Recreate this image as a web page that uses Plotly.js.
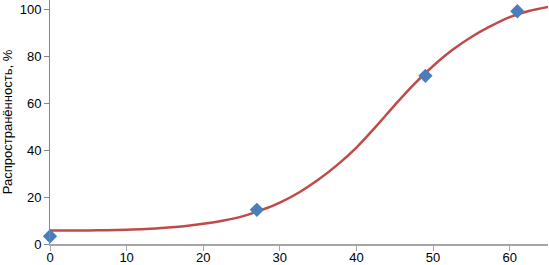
<!DOCTYPE html>
<html>
<head>
<meta charset="utf-8">
<script src="https://cdn.plot.ly/plotly-3.0.1.min.js"></script>
<style>html,body{margin:0;padding:0;background:#fff;}#chart{width:549px;height:265px;}</style>
</head>
<body>
<div id="chart"></div>
<script>
// observed points (diamonds)
var obsX = [0, 27, 49, 61];
var obsY = [3.3, 14.6, 71.8, 99.4];
// fitted curve
var fitX = [0, 2.5, 5, 7.5, 10, 12.5, 15, 17.5, 20, 22.5, 25, 27.5, 30, 32.5, 35, 37.5, 40, 42.5, 45, 47.5, 50, 52.5, 55, 57.5, 60, 62.5, 65];
var fitY = [5.8, 5.8, 5.8, 5.9, 6.1, 6.4, 6.9, 7.6, 8.6, 9.9, 11.7, 14.4, 17.7, 22.0, 27.4, 33.8, 41.2, 50.0, 59.3, 68.2, 76.0, 82.8, 88.4, 93.0, 96.9, 99.5, 101.2];
var xTicks = [0, 10, 20, 30, 40, 50, 60];
var yTicks = [0, 20, 40, 60, 80, 100];
var yTitle = 'Распространённость, %';

var traces = [
  {x: fitX, y: fitY, type: 'scatter', mode: 'lines',
   line: {color: '#BE4B48', width: 2.5, shape: 'spline', smoothing: 1},
   hoverinfo: 'skip', cliponaxis: false},
  {x: obsX, y: obsY, type: 'scatter', mode: 'markers',
   marker: {symbol: 'diamond', size: 11, color: '#4A7EBB'}, cliponaxis: false}
];
var axisFont = {family: 'Liberation Sans, Arial, sans-serif', size: 13, color: '#000'};
var layout = {
  width: 549, height: 265,
  margin: {l: 50, r: 1, t: 0, b: 21},
  paper_bgcolor: '#fff', plot_bgcolor: '#fff',
  showlegend: false,
  font: axisFont,
  xaxis: {range: [0, 65], tickvals: xTicks, ticktext: xTicks.map(String),
    showgrid: false, zeroline: false, showline: true, linecolor: '#A6A6A6', linewidth: 1.5,
    ticks: 'outside', ticklen: 5, tickcolor: '#A6A6A6', tickwidth: 1, tickfont: axisFont,
    ticklabelstandoff: -4},
  yaxis: {range: [0, 104.2], tickvals: yTicks, ticktext: yTicks.map(String),
    showgrid: false, zeroline: false, showline: true, linecolor: '#868686', linewidth: 1,
    ticks: 'outside', ticklen: 5, tickcolor: '#868686', tickwidth: 1, tickfont: axisFont,
    title: {text: yTitle, font: axisFont, standoff: 4}}
};
Plotly.newPlot('chart', traces, layout, {displayModeBar: false, staticPlot: true});
</script>
</body>
</html>
